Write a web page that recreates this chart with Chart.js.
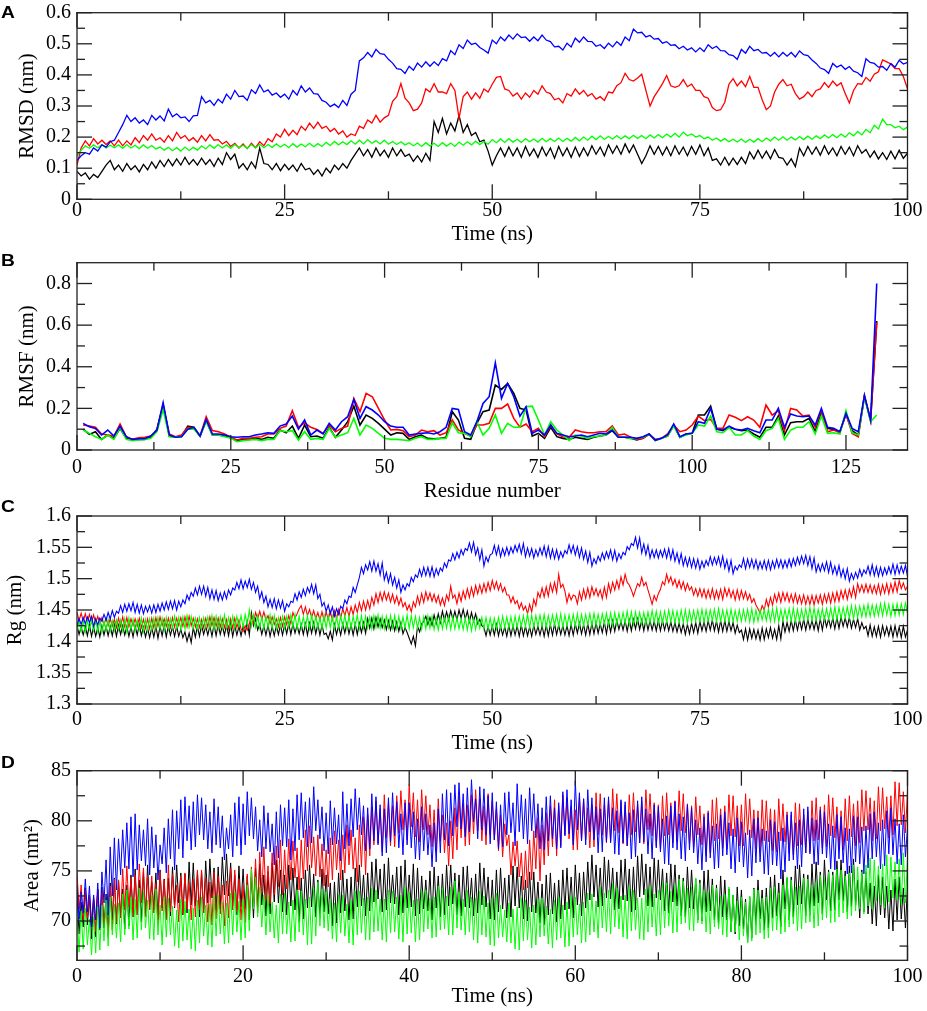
<!DOCTYPE html>
<html>
<head>
<meta charset="utf-8">
<script src="https://cdn.jsdelivr.net/npm/chart.js@4.4.0/dist/chart.umd.min.js"></script>
<style>
  html, body { margin: 0; padding: 0; background: #fff; }
  .panel { position: absolute; left: 0; width: 927px; }
  .overlay { position: absolute; left: 0; top: 0; pointer-events: none; z-index: 1; }
  .letter {
    position: absolute; left: 1px; z-index: 2;
    font: bold 16px/16px "Liberation Sans", Arial, sans-serif;
    transform: scaleX(1.2); transform-origin: left top;
  }
</style>
</head>
<body>
<div class="panel" style="top:0;height:250px"><canvas id="chartA"></canvas><canvas class="overlay" id="frameA"></canvas></div>
<div class="panel" style="top:250px;height:254px"><canvas id="chartB"></canvas><canvas class="overlay" id="frameB"></canvas></div>
<div class="panel" style="top:504px;height:254px"><canvas id="chartC"></canvas><canvas class="overlay" id="frameC"></canvas></div>
<div class="panel" style="top:758px;height:253px"><canvas id="chartD"></canvas><canvas class="overlay" id="frameD"></canvas></div>
<div class="letter" style="top:4.8px">A</div>
<div class="letter" style="top:253.2px">B</div>
<div class="letter" style="top:499.2px">C</div>
<div class="letter" style="top:754.8px">D</div>
<script>
// sampling grids
const timeHalf = Array.from({ length: 201 }, (_, i) => i * 0.5);
const timeQuarter = Array.from({ length: 401 }, (_, i) => i * 0.25);
const residues = Array.from({ length: 130 }, (_, i) => i + 1);

// tick values and labels
const timeTicks = [0, 25, 50, 75, 100];
const timeTickLabels = ["0", "25", "50", "75", "100"];
const timeMinor = [12.5, 37.5, 62.5, 87.5];
const areaTimeTicks = [0, 20, 40, 60, 80, 100];
const areaTimeTickLabels = ["0", "20", "40", "60", "80", "100"];
const areaTimeMinor = [10, 30, 50, 70, 90];
const residueTicks = [0, 25, 50, 75, 100, 125];
const residueTickLabels = ["0", "25", "50", "75", "100", "125"];
const residueMinor = [12.5, 37.5, 62.5, 87.5, 112.5];

const rmsdTicks = [0, 0.1, 0.2, 0.3, 0.4, 0.5, 0.6];
const rmsdTickLabels = ["0", "0.1", "0.2", "0.3", "0.4", "0.5", "0.6"];
const rmsdMinor = [0.05, 0.15, 0.25, 0.35, 0.45, 0.55];
const rmsfTicks = [0, 0.2, 0.4, 0.6, 0.8];
const rmsfTickLabels = ["0", "0.2", "0.4", "0.6", "0.8"];
const rmsfMinor = [0.1, 0.3, 0.5, 0.7];
const rgTicks = [1.3, 1.35, 1.4, 1.45, 1.5, 1.55, 1.6];
const rgTickLabels = ["1.3", "1.35", "1.4", "1.45", "1.5", "1.55", "1.6"];
const rgMinor = [1.325, 1.375, 1.425, 1.475, 1.525, 1.575];
const areaTicks = [70, 75, 80, 85];
const areaTickLabels = ["70", "75", "80", "85"];
const areaMinor = [67.5, 72.5, 77.5, 82.5];

// A: RMSD (nm), every 0.5 ns
const rmsdBlack = [
  .09,.075,.085,.065,.08,.07,.09,.11,.125,.095,
  .11,.09,.115,.095,.108,.088,.112,.095,.12,.1,
  .125,.105,.128,.108,.13,.11,.135,.112,.128,.11,
  .132,.112,.128,.106,.132,.112,.15,.128,.145,.1,
  .115,.095,.12,.1,.165,.115,.112,.095,.115,.092,
  .112,.095,.11,.09,.115,.095,.1,.08,.095,.075,
  .1,.085,.11,.095,.115,.1,.125,.145,.165,.14,
  .16,.135,.165,.14,.158,.135,.165,.14,.16,.138,
  .145,.122,.14,.12,.148,.125,.25,.215,.26,.21,
  .245,.22,.27,.215,.24,.205,.215,.185,.19,.155,
  .11,.14,.165,.138,.168,.14,.165,.135,.17,.14,
  .162,.135,.168,.14,.165,.132,.17,.14,.165,.135,
  .168,.138,.165,.14,.172,.145,.168,.14,.175,.148,
  .172,.145,.178,.15,.175,.145,.115,.14,.172,.145,
  .17,.142,.168,.14,.172,.145,.168,.14,.17,.145,
  .175,.14,.165,.125,.13,.11,.135,.11,.132,.112,
  .135,.115,.152,.13,.158,.132,.155,.13,.16,.135,
  .132,.11,.13,.105,.165,.14,.17,.145,.168,.142,
  .172,.145,.165,.14,.17,.145,.168,.14,.172,.148,
  .16,.135,.155,.13,.15,.128,.155,.13,.158,.132,
  .148
];
const rmsdRed = [
  .11,.165,.188,.172,.195,.178,.19,.176,.188,.172,
  .19,.172,.188,.175,.198,.182,.205,.19,.21,.19,
  .198,.184,.205,.188,.215,.196,.205,.188,.198,.184,
  .205,.188,.208,.19,.192,.178,.186,.17,.18,.165,
  .178,.163,.18,.166,.185,.172,.195,.185,.21,.2,
  .225,.205,.222,.208,.235,.222,.245,.228,.248,.228,
  .235,.218,.228,.21,.22,.2,.21,.205,.235,.228,
  .255,.245,.27,.248,.262,.27,.315,.33,.372,.325,
  .31,.285,.29,.31,.355,.345,.372,.345,.345,.34,
  .372,.35,.26,.33,.345,.322,.342,.325,.355,.345,
  .37,.392,.395,.355,.35,.332,.342,.322,.342,.328,
  .35,.338,.365,.345,.34,.32,.325,.31,.34,.332,
  .355,.338,.35,.332,.34,.322,.33,.318,.345,.342,
  .365,.375,.405,.385,.38,.39,.402,.35,.3,.33,
  .35,.372,.398,.365,.36,.365,.385,.362,.37,.35,
  .35,.33,.325,.295,.285,.288,.312,.37,.388,.365,
  .38,.362,.395,.36,.36,.32,.288,.3,.345,.37,
  .385,.365,.37,.34,.322,.33,.345,.33,.35,.355,
  .375,.36,.38,.365,.375,.34,.31,.35,.372,.37,
  .392,.38,.402,.41,.448,.442,.435,.42,.42,.395,
  .355
];
const rmsdGreen = [
  .14,.158,.172,.164,.175,.166,.176,.165,.174,.166,
  .175,.164,.176,.165,.174,.163,.175,.164,.173,.162,
  .168,.158,.167,.156,.166,.155,.168,.157,.167,.158,
  .172,.162,.175,.164,.176,.165,.175,.164,.176,.166,
  .174,.164,.176,.165,.177,.166,.176,.167,.178,.168,
  .177,.166,.179,.168,.178,.169,.18,.169,.179,.17,
  .183,.173,.186,.175,.185,.176,.188,.177,.19,.178,
  .192,.18,.188,.178,.19,.177,.186,.176,.185,.175,
  .182,.172,.181,.17,.182,.171,.18,.17,.182,.171,
  .181,.17,.184,.174,.185,.175,.187,.176,.186,.177,
  .192,.182,.194,.183,.195,.184,.193,.183,.195,.185,
  .194,.184,.196,.185,.195,.186,.197,.186,.196,.187,
  .199,.188,.2,.19,.203,.192,.204,.193,.202,.194,
  .205,.194,.204,.195,.206,.196,.205,.195,.207,.197,
  .208,.198,.21,.2,.212,.2,.216,.204,.21,.2,
  .205,.195,.2,.19,.197,.187,.195,.185,.193,.184,
  .194,.183,.193,.184,.195,.185,.197,.188,.2,.19,
  .201,.19,.2,.191,.202,.192,.203,.193,.204,.195,
  .207,.197,.208,.198,.21,.2,.214,.204,.218,.207,
  .225,.214,.238,.226,.258,.24,.24,.23,.235,.224,
  .232
];
const rmsdBlue = [
  .125,.14,.15,.145,.165,.155,.175,.168,.185,.19,
  .215,.24,.27,.25,.262,.245,.255,.24,.27,.255,
  .268,.252,.29,.265,.275,.262,.265,.25,.268,.27,
  .33,.31,.318,.302,.322,.31,.338,.322,.35,.33,
  .332,.318,.352,.34,.368,.345,.352,.335,.342,.328,
  .338,.322,.35,.335,.365,.345,.358,.34,.338,.318,
  .312,.298,.306,.295,.318,.302,.338,.35,.445,.455,
  .472,.458,.482,.468,.466,.45,.438,.42,.418,.405,
  .428,.415,.438,.425,.442,.428,.442,.43,.452,.445,
  .478,.465,.497,.485,.512,.498,.502,.488,.48,.47,
  .512,.50,.522,.51,.528,.515,.532,.52,.522,.508,
  .522,.51,.528,.512,.507,.49,.492,.48,.502,.49,
  .518,.505,.522,.508,.507,.492,.497,.485,.502,.49,
  .507,.495,.522,.51,.547,.535,.537,.522,.527,.515,
  .517,.502,.507,.495,.497,.484,.492,.48,.487,.474,
  .487,.475,.497,.485,.492,.478,.477,.465,.462,.45,
  .482,.47,.492,.478,.482,.47,.472,.46,.472,.458,
  .472,.46,.472,.458,.477,.465,.462,.448,.437,.422,
  .417,.405,.437,.425,.432,.418,.427,.412,.407,.395,
  .452,.44,.437,.425,.427,.415,.437,.425,.447,.435,
  .44
];

// B: RMSF (nm) per residue 1..130
const rmsfBlack = [
  .10,.075,.088,.051,.072,.056,.104,.056,.051,.051,
  .051,.061,.10,.216,.067,.061,.067,.115,.109,.067,
  .141,.072,.072,.067,.061,.045,.051,.051,.056,.051,
  .061,.056,.096,.083,.115,.056,.12,.064,.067,.056,
  .109,.061,.096,.136,.211,.12,.168,.152,.128,.10,
  .072,.083,.08,.051,.064,.072,.056,.054,.056,.061,
  .184,.144,.056,.051,.128,.184,.192,.312,.291,.32,
  .272,.20,.192,.067,.08,.056,.109,.064,.056,.051,
  .061,.056,.051,.061,.067,.072,.093,.061,.061,.056,
  .048,.056,.077,.045,.056,.067,.12,.061,.077,.08,
  .168,.168,.211,.10,.093,.109,.10,.093,.096,.077,
  .061,.109,.109,.163,.072,.131,.136,.136,.152,.088,
  .184,.104,.099,.088,.173,.093,.072,.259,.14,.62
];
const rmsfRed = [
  .12,.115,.109,.077,.072,.067,.125,.064,.051,.059,
  .061,.067,.096,.216,.077,.064,.072,.109,.106,.067,
  .16,.093,.088,.077,.061,.048,.056,.056,.061,.064,
  .077,.077,.104,.115,.189,.109,.131,.109,.099,.08,
  .12,.088,.104,.115,.248,.184,.272,.256,.20,.144,
  .096,.099,.093,.064,.072,.096,.088,.093,.072,.083,
  .144,.096,.08,.067,.12,.12,.128,.20,.20,.221,
  .152,.109,.125,.088,.104,.064,.12,.077,.064,.061,
  .096,.088,.083,.083,.088,.088,.115,.072,.077,.061,
  .051,.056,.077,.051,.056,.077,.12,.088,.096,.12,
  .163,.141,.147,.104,.104,.168,.157,.141,.16,.144,
  .109,.216,.168,.189,.093,.20,.192,.163,.168,.109,
  .192,.088,.096,.083,.173,.08,.064,.259,.144,.613
];
const rmsfGreen = [
  .096,.08,.064,.051,.072,.051,.109,.051,.045,.048,
  .051,.056,.088,.195,.064,.061,.064,.10,.10,.067,
  .136,.072,.072,.064,.056,.04,.045,.048,.051,.045,
  .051,.051,.093,.088,.093,.048,.088,.051,.056,.051,
  .104,.061,.072,.083,.152,.072,.12,.104,.08,.056,
  .051,.051,.048,.045,.056,.064,.051,.051,.056,.056,
  .131,.083,.08,.064,.136,.072,.104,.168,.08,.128,
  .109,.109,.208,.211,.144,.072,.136,.096,.072,.045,
  .072,.067,.056,.064,.067,.072,.109,.061,.061,.056,
  .056,.061,.077,.048,.056,.067,.115,.061,.072,.08,
  .12,.115,.163,.088,.083,.109,.072,.072,.093,.067,
  .051,.093,.104,.152,.051,.096,.109,.109,.136,.077,
  .163,.08,.083,.077,.189,.083,.072,.255,.136,.168
];
const rmsfBlue = [
  .128,.112,.104,.072,.096,.067,.115,.064,.051,.054,
  .054,.067,.096,.227,.072,.061,.064,.10,.109,.067,
  .147,.077,.077,.072,.064,.061,.064,.064,.072,.077,
  .083,.08,.115,.125,.163,.10,.144,.072,.096,.077,
  .128,.096,.136,.16,.243,.152,.208,.192,.168,.136,
  .115,.109,.109,.072,.077,.08,.083,.077,.088,.109,
  .20,.195,.088,.072,.136,.224,.256,.419,.248,.32,
  .256,.163,.208,.08,.096,.072,.12,.08,.072,.064,
  .067,.072,.064,.072,.08,.077,.096,.061,.061,.061,
  .056,.064,.077,.048,.056,.072,.125,.064,.077,.08,
  .136,.128,.20,.10,.096,.115,.10,.096,.104,.093,
  .083,.144,.144,.20,.109,.173,.163,.16,.163,.12,
  .20,.109,.104,.088,.176,.104,.088,.262,.144,.80
];

// C: Rg (nm), every 0.25 ns
const rgBlack = [
  1.425,1.411,1.423,1.41,1.424,1.409,1.426,1.408,1.423,1.408,1.422,1.407,1.425,1.41,1.424,1.409,1.424,1.409,1.426,1.408,
  1.426,1.411,1.425,1.41,1.424,1.408,1.423,1.407,1.425,1.41,1.427,1.409,1.423,1.407,1.421,1.406,1.422,1.407,1.424,1.405,
  1.424,1.409,1.426,1.407,1.425,1.41,1.423,1.408,1.424,1.408,1.419,1.406,1.415,1.4,1.413,1.398,1.422,1.407,1.424,1.408,
  1.426,1.411,1.424,1.41,1.425,1.408,1.427,1.409,1.427,1.411,1.425,1.41,1.426,1.409,1.428,1.408,1.425,1.41,1.424,1.409,
  1.424,1.412,1.432,1.41,1.445,1.425,1.436,1.418,1.427,1.411,1.425,1.41,1.426,1.408,1.424,1.409,1.425,1.411,1.426,1.41,
  1.427,1.412,1.429,1.411,1.428,1.413,1.426,1.412,1.427,1.411,1.428,1.41,1.429,1.413,1.43,1.412,1.428,1.41,1.426,1.411,
  1.413,1.404,1.416,1.402,1.427,1.411,1.425,1.41,1.428,1.413,1.429,1.412,1.427,1.41,1.428,1.411,1.429,1.414,1.43,1.413,
  1.436,1.421,1.437,1.42,1.438,1.423,1.436,1.422,1.434,1.419,1.433,1.418,1.432,1.417,1.431,1.416,1.43,1.412,1.422,1.414,
  1.405,1.396,1.408,1.393,1.424,1.415,1.428,1.432,1.44,1.427,1.438,1.426,1.442,1.428,1.444,1.43,1.448,1.433,1.447,1.434,
  1.449,1.435,1.448,1.434,1.45,1.437,1.451,1.436,1.448,1.431,1.446,1.432,1.444,1.428,1.435,1.425,1.422,1.409,1.424,1.41,
  1.425,1.41,1.427,1.409,1.424,1.41,1.423,1.408,1.426,1.409,1.425,1.41,1.425,1.408,1.426,1.409,1.424,1.409,1.423,1.408,
  1.426,1.411,1.424,1.41,1.425,1.408,1.426,1.409,1.427,1.41,1.428,1.411,1.426,1.411,1.425,1.41,1.425,1.409,1.427,1.41,
  1.428,1.413,1.429,1.412,1.427,1.41,1.428,1.411,1.429,1.412,1.43,1.413,1.428,1.414,1.431,1.412,1.432,1.415,1.433,1.416,
  1.434,1.419,1.432,1.418,1.433,1.416,1.434,1.417,1.435,1.42,1.436,1.419,1.434,1.417,1.435,1.418,1.433,1.418,1.432,1.417,
  1.434,1.417,1.433,1.418,1.432,1.417,1.431,1.416,1.43,1.415,1.429,1.414,1.428,1.411,1.427,1.412,1.429,1.414,1.43,1.413,
  1.432,1.417,1.431,1.416,1.433,1.418,1.434,1.417,1.432,1.415,1.433,1.416,1.433,1.416,1.432,1.417,1.43,1.413,1.426,1.414,
  1.418,1.403,1.42,1.402,1.42,1.405,1.419,1.404,1.418,1.402,1.421,1.403,1.42,1.406,1.422,1.405,1.419,1.403,1.425,1.404,
  1.432,1.415,1.43,1.416,1.433,1.417,1.434,1.418,1.434,1.419,1.435,1.418,1.435,1.42,1.433,1.419,1.434,1.417,1.436,1.418,
  1.438,1.423,1.436,1.422,1.437,1.42,1.438,1.421,1.439,1.424,1.437,1.423,1.438,1.421,1.435,1.422,1.436,1.418,1.43,1.42,
  1.424,1.409,1.426,1.408,1.423,1.408,1.424,1.407,1.425,1.41,1.423,1.409,1.424,1.407,1.425,1.408,1.423,1.406,1.424,1.407,
  1.418
];
const rgRed = [
  1.446,1.433,1.445,1.432,1.444,1.431,1.443,1.43,1.442,1.429,1.44,1.428,1.438,1.426,1.437,1.425,1.436,1.424,1.435,1.422,
  1.437,1.424,1.439,1.423,1.438,1.423,1.436,1.425,1.436,1.424,1.437,1.422,1.435,1.421,1.436,1.42,1.437,1.422,1.438,1.424,
  1.439,1.425,1.436,1.424,1.437,1.422,1.438,1.423,1.437,1.425,1.438,1.424,1.439,1.423,1.44,1.425,1.437,1.423,1.436,1.422,
  1.435,1.422,1.437,1.423,1.439,1.425,1.438,1.424,1.437,1.423,1.436,1.422,1.435,1.42,1.436,1.421,1.437,1.422,1.434,1.42,
  1.416,1.425,1.418,1.428,1.442,1.429,1.446,1.436,1.448,1.435,1.447,1.434,1.441,1.428,1.439,1.427,1.436,1.423,1.438,1.424,
  1.439,1.427,1.441,1.428,1.446,1.437,1.444,1.452,1.457,1.443,1.455,1.441,1.451,1.438,1.449,1.436,1.446,1.434,1.447,1.433,
  1.447,1.435,1.448,1.434,1.449,1.436,1.451,1.437,1.452,1.441,1.454,1.44,1.455,1.443,1.458,1.446,1.462,1.449,1.464,1.45,
  1.465,1.452,1.47,1.458,1.476,1.462,1.478,1.465,1.479,1.466,1.477,1.463,1.475,1.461,1.472,1.458,1.469,1.455,1.462,1.45,
  1.458,1.447,1.463,1.455,1.472,1.459,1.476,1.462,1.479,1.466,1.477,1.464,1.475,1.462,1.473,1.458,1.469,1.457,1.474,1.465,
  1.488,1.469,1.474,1.46,1.477,1.464,1.48,1.468,1.484,1.47,1.486,1.472,1.489,1.476,1.49,1.477,1.492,1.479,1.494,1.481,
  1.497,1.484,1.495,1.482,1.492,1.479,1.486,1.474,1.474,1.462,1.471,1.46,1.465,1.452,1.461,1.45,1.456,1.444,1.459,1.447,
  1.467,1.457,1.478,1.47,1.485,1.471,1.487,1.472,1.492,1.479,1.494,1.478,1.507,1.486,1.491,1.48,1.462,1.476,1.466,1.474,
  1.472,1.46,1.479,1.466,1.483,1.469,1.485,1.47,1.487,1.474,1.484,1.472,1.482,1.468,1.486,1.47,1.492,1.478,1.494,1.482,
  1.497,1.484,1.503,1.49,1.507,1.494,1.49,1.482,1.472,1.482,1.492,1.488,1.502,1.489,1.494,1.482,1.471,1.459,1.473,1.465,
  1.476,1.483,1.495,1.49,1.507,1.494,1.503,1.49,1.499,1.486,1.497,1.484,1.495,1.481,1.492,1.482,1.487,1.474,1.484,1.472,
  1.484,1.471,1.483,1.469,1.482,1.469,1.484,1.468,1.481,1.468,1.483,1.467,1.485,1.472,1.484,1.47,1.481,1.466,1.482,1.467,
  1.481,1.468,1.479,1.466,1.475,1.462,1.468,1.458,1.452,1.445,1.457,1.45,1.467,1.455,1.47,1.458,1.475,1.463,1.477,1.462,
  1.478,1.465,1.477,1.463,1.475,1.462,1.476,1.461,1.473,1.46,1.474,1.459,1.472,1.459,1.473,1.458,1.473,1.461,1.474,1.459,
  1.475,1.462,1.476,1.461,1.477,1.463,1.479,1.464,1.481,1.468,1.482,1.467,1.483,1.471,1.487,1.47,1.492,1.479,1.49,1.478,
  1.491,1.478,1.49,1.477,1.489,1.476,1.491,1.475,1.49,1.477,1.492,1.476,1.492,1.478,1.495,1.479,1.497,1.484,1.493,1.482,
  1.488
];
const rgGreen = [
  1.418,1.431,1.416,1.432,1.415,1.433,1.419,1.434,1.417,1.436,1.415,1.433,1.414,1.432,1.418,1.435,1.416,1.433,1.417,1.434,
  1.418,1.434,1.416,1.436,1.415,1.437,1.419,1.435,1.417,1.434,1.418,1.437,1.416,1.435,1.417,1.436,1.418,1.437,1.42,1.438,
  1.42,1.437,1.418,1.438,1.419,1.436,1.421,1.44,1.421,1.438,1.419,1.439,1.42,1.441,1.422,1.44,1.421,1.437,1.419,1.438,
  1.42,1.438,1.422,1.439,1.421,1.441,1.419,1.44,1.42,1.439,1.421,1.442,1.422,1.438,1.42,1.44,1.421,1.44,1.423,1.441,
  1.422,1.443,1.426,1.45,1.424,1.442,1.422,1.441,1.421,1.439,1.42,1.44,1.422,1.442,1.421,1.441,1.42,1.438,1.422,1.44,
  1.421,1.44,1.423,1.442,1.422,1.443,1.42,1.44,1.421,1.439,1.422,1.441,1.42,1.442,1.421,1.44,1.421,1.438,1.42,1.442,
  1.421,1.441,1.422,1.44,1.42,1.439,1.421,1.441,1.422,1.442,1.42,1.44,1.421,1.44,1.423,1.442,1.42,1.441,1.421,1.44,
  1.421,1.439,1.42,1.441,1.422,1.442,1.421,1.44,1.42,1.44,1.422,1.441,1.421,1.441,1.42,1.44,1.42,1.439,1.421,1.442,
  1.42,1.441,1.422,1.44,1.421,1.438,1.419,1.439,1.42,1.441,1.421,1.44,1.419,1.437,1.418,1.438,1.42,1.439,1.421,1.44,
  1.419,1.439,1.42,1.438,1.42,1.436,1.419,1.437,1.418,1.437,1.417,1.436,1.419,1.437,1.421,1.438,1.42,1.438,1.419,1.437,
  1.419,1.437,1.42,1.438,1.42,1.44,1.422,1.439,1.421,1.439,1.42,1.44,1.422,1.44,1.423,1.441,1.423,1.443,1.422,1.442,
  1.422,1.441,1.424,1.442,1.423,1.443,1.422,1.441,1.424,1.442,1.425,1.443,1.423,1.444,1.422,1.442,1.424,1.442,1.425,1.443,
  1.424,1.444,1.423,1.443,1.425,1.443,1.426,1.444,1.424,1.445,1.425,1.443,1.425,1.444,1.427,1.445,1.426,1.445,1.425,1.446,
  1.427,1.445,1.428,1.446,1.428,1.448,1.427,1.447,1.427,1.447,1.429,1.446,1.428,1.446,1.427,1.447,1.429,1.449,1.43,1.448,
  1.428,1.447,1.429,1.448,1.43,1.45,1.431,1.449,1.429,1.448,1.43,1.45,1.43,1.45,1.429,1.449,1.431,1.449,1.432,1.45,
  1.431,1.451,1.43,1.45,1.432,1.45,1.433,1.451,1.431,1.452,1.432,1.45,1.432,1.45,1.431,1.451,1.431,1.449,1.432,1.45,
  1.432,1.45,1.433,1.451,1.431,1.452,1.43,1.45,1.432,1.45,1.434,1.451,1.433,1.451,1.432,1.452,1.432,1.453,1.431,1.451,
  1.433,1.451,1.434,1.452,1.432,1.453,1.431,1.451,1.433,1.451,1.434,1.452,1.434,1.454,1.433,1.453,1.433,1.451,1.435,1.452,
  1.434,1.452,1.435,1.453,1.435,1.455,1.434,1.454,1.436,1.454,1.437,1.455,1.437,1.457,1.436,1.456,1.438,1.456,1.439,1.457,
  1.439,1.459,1.44,1.458,1.44,1.458,1.441,1.46,1.441,1.461,1.442,1.459,1.44,1.459,1.441,1.46,1.442,1.46,1.443,1.461,
  1.445
];
const rgBlue = [
  1.425,1.436,1.427,1.438,1.428,1.439,1.43,1.44,1.424,1.436,1.426,1.437,1.432,1.443,1.434,1.446,1.436,1.449,1.438,1.448,
  1.445,1.457,1.446,1.459,1.448,1.46,1.449,1.462,1.446,1.459,1.445,1.458,1.444,1.456,1.447,1.457,1.445,1.458,1.446,1.459,
  1.448,1.461,1.45,1.463,1.451,1.464,1.452,1.465,1.45,1.464,1.455,1.466,1.46,1.474,1.466,1.478,1.472,1.485,1.474,1.488,
  1.475,1.488,1.472,1.486,1.468,1.482,1.467,1.481,1.465,1.477,1.466,1.479,1.468,1.482,1.474,1.485,1.482,1.494,1.484,1.498,
  1.484,1.496,1.486,1.499,1.483,1.494,1.478,1.488,1.468,1.479,1.462,1.472,1.455,1.467,1.454,1.468,1.452,1.466,1.453,1.465,
  1.448,1.46,1.455,1.464,1.462,1.476,1.466,1.479,1.47,1.483,1.473,1.486,1.478,1.491,1.476,1.49,1.468,1.475,1.456,1.462,
  1.448,1.458,1.444,1.455,1.44,1.452,1.443,1.456,1.452,1.466,1.46,1.472,1.47,1.486,1.478,1.49,1.502,1.518,1.508,1.522,
  1.514,1.527,1.512,1.528,1.512,1.524,1.506,1.525,1.498,1.51,1.494,1.508,1.49,1.502,1.485,1.498,1.478,1.49,1.482,1.492,
  1.488,1.502,1.495,1.506,1.502,1.515,1.504,1.518,1.505,1.518,1.504,1.519,1.503,1.516,1.506,1.517,1.512,1.525,1.518,1.53,
  1.528,1.54,1.53,1.542,1.533,1.546,1.538,1.548,1.545,1.557,1.543,1.558,1.538,1.549,1.53,1.546,1.52,1.535,1.527,1.538,
  1.54,1.553,1.538,1.552,1.535,1.548,1.537,1.55,1.538,1.55,1.541,1.553,1.543,1.555,1.54,1.556,1.535,1.549,1.536,1.548,
  1.533,1.546,1.536,1.549,1.538,1.552,1.535,1.551,1.533,1.547,1.532,1.546,1.531,1.543,1.534,1.545,1.54,1.554,1.541,1.553,
  1.538,1.551,1.534,1.549,1.531,1.544,1.526,1.542,1.52,1.532,1.524,1.536,1.528,1.541,1.531,1.543,1.533,1.546,1.53,1.545,
  1.528,1.54,1.532,1.542,1.538,1.551,1.546,1.556,1.553,1.566,1.549,1.565,1.541,1.555,1.538,1.553,1.533,1.546,1.534,1.546,
  1.533,1.545,1.535,1.547,1.533,1.548,1.531,1.546,1.528,1.541,1.525,1.54,1.521,1.534,1.52,1.533,1.518,1.532,1.517,1.531,
  1.515,1.528,1.518,1.529,1.521,1.535,1.522,1.534,1.523,1.535,1.52,1.536,1.517,1.53,1.512,1.529,1.508,1.52,1.514,1.522,
  1.518,1.532,1.516,1.531,1.518,1.531,1.517,1.53,1.515,1.527,1.516,1.529,1.515,1.529,1.514,1.528,1.517,1.531,1.518,1.53,
  1.517,1.529,1.518,1.531,1.519,1.532,1.521,1.534,1.523,1.536,1.524,1.537,1.521,1.535,1.516,1.533,1.511,1.523,1.512,1.524,
  1.513,1.527,1.51,1.526,1.508,1.52,1.506,1.521,1.503,1.515,1.5,1.516,1.496,1.508,1.499,1.51,1.501,1.515,1.504,1.514,
  1.508,1.52,1.506,1.522,1.505,1.519,1.504,1.518,1.505,1.517,1.507,1.519,1.508,1.523,1.507,1.522,1.508,1.52,1.509,1.521,
  1.504
];

// D: Area (nm^2), every 0.25 ns
const areaBlack = [
  72.6,68.7,71.9,69.4,73.3,69.6,72.4,68.2,72.1,68.4,73.2,69.1,73.4,69.3,72.7,68.6,73.8,70.1,74.3,69.7,
  74.1,70.3,73.2,69.2,73.6,69.5,74.6,70.4,75.2,70.6,74.1,69.9,74.9,70.4,75.6,71.2,73.9,71.1,74.8,70.1,
  75.1,71.3,74.2,70.2,74.3,70.5,75.4,71.3,75.6,71.8,74.8,70.6,74.7,70.8,75.9,71.6,75.8,71.5,74.9,70.4,
  74.9,70.8,76,71.8,76.2,72.3,75.3,71.1,75.4,71.2,76.4,72.6,76.7,72.5,75.8,71.5,74.6,70.6,75.5,71.4,
  75.2,71.2,74.5,70.1,74.4,70.3,75.3,71.4,75.7,71.6,74.6,70.5,74.9,70.7,75.8,71.9,76.1,71.8,75.1,70.9,
  74.6,70.6,75.6,71.5,75.3,71.1,74.4,69.9,74.3,70.2,75.1,71.3,75.6,71.4,74.7,70.4,74.1,70.3,75.2,70.9,
  74.6,70.7,73.8,69.5,73.9,69.8,74.8,70.8,75.1,71,74.2,70.1,74.4,70.2,75.3,71.4,75.6,71.5,74.6,70.5,
  74.8,71,75.9,71.9,76.2,72.2,75.2,70.9,75.7,71.1,76.3,71.8,74.6,71.7,75.4,70.6,75.5,70.8,76.1,71.3,
  74.6,71.4,75.7,70.5,75.3,70.7,74.5,71.2,74.1,71,75,70.1,75.4,71.3,74.5,70.4,74.7,70.6,75.6,71.5,
  75.6,71.7,74.8,70.6,74.6,70.5,75.4,71.4,75.5,71.3,74.3,70.5,74.7,70.8,75.8,71.6,75.3,71.4,74.4,70.2,
  74.1,70.1,75.1,70.9,75.3,71.2,74.3,70.3,74.6,70.4,75.5,71.5,75.4,71.3,74.5,70.2,74.1,70,74.9,70.9,
  74.9,70.8,73.9,69.8,73.7,69.6,74.6,70.6,74.8,70.7,73.8,69.9,74.1,70.2,75.1,71.1,75.3,71.2,74.4,70.3,
  75.6,71.6,74.8,70.5,74.9,71.3,75.9,72.1,76.6,72.4,75.6,71.4,75.3,71.5,76.4,72.3,76.1,72.2,75.3,71.1,
  74.9,71.2,76.1,72.1,76.2,72,75.2,70.9,75.4,71.1,76.5,72.4,76.7,72.6,75.7,71.5,75.4,71.4,76.3,72.3,
  76.1,72.1,75.2,71,74.8,70.8,75.7,71.9,75.6,71.5,74.6,70.5,74.3,70.4,75.4,71.3,75.1,71.2,74.2,70.1,
  74.1,70,75,70.9,75.1,71,74.2,70.1,73.6,69.6,74.5,70.4,74.1,70.1,73.2,68.9,72.6,68.7,73.4,69.5,
  73.1,69.2,72.2,67.9,72.4,68.3,73.3,69.6,74.1,70.2,73.1,69.1,73.3,69.3,74.4,70.3,74.6,70.5,73.8,69.4,
  75.1,71.2,74.3,70.1,74.4,70.4,75.5,71.6,75.6,71.7,74.7,70.5,74.6,70.6,75.7,71.5,75.9,71.8,74.9,70.7,
  76.1,72.1,75.1,71,74.9,71.1,76,72.1,76.1,72,75,70.9,75.5,71.4,76.2,71.6,74.1,70.3,75.1,70.9,
  74.9,70.7,73.8,69.7,73.5,69.5,74.6,70.6,74.4,70.3,73.5,69.2,73.1,69,74.2,70.1,74.4,70.2,73.3,69.3,
  73.6
];
const areaRed = [
  74.9,71.2,73.6,70.1,73.2,70.3,72.6,69.9,72.4,68.9,73.1,69.5,72.9,69.6,71.8,68.4,73.5,69.1,74.2,69.8,
  74.1,70.3,75.2,71.1,75.5,71.4,74.3,70.5,74.6,70.6,75.7,71.8,75.3,70.4,74.6,71.1,74.5,70.8,73.7,69.6,
  74.9,71,74.1,70.1,75.6,70.9,74.7,71.4,73.6,69.9,74.5,70.7,74.8,71.2,73.9,70.1,74.2,70.4,75.1,71.1,
  75.1,70.8,74.3,69.9,73.9,69.6,74.9,70.2,74.5,70.7,73.6,69.5,74,70.3,75.3,71.1,75.1,70.9,74.2,70.1,
  73.6,69.8,74.7,70.6,75.4,71.6,76.2,70.8,76.9,72.8,77.4,72.1,75.5,71.7,76.8,72.6,77.5,73.4,78.1,72.6,
  77.1,73.2,78.2,74.1,78,74.3,77.3,73.1,78.1,74.2,79.1,75,79.5,75.3,78.4,74.5,78.6,74.4,77.7,73.5,
  77.1,73.4,78.3,74.1,79,75.1,78.1,74.1,78.6,74.8,79.6,75.6,79.1,75.2,78.3,73.9,79.6,75.4,80.4,74.6,
  80.6,76.5,81.4,77.6,82,77.8,81.2,76.9,82.6,78.3,81.8,77.5,81.5,77.4,82.5,78.8,83,79.1,82.1,78.1,
  83.6,79.4,82.8,78.4,82.1,77.9,83.1,79.1,82.5,78.6,81.6,77.4,81.1,76.9,82.2,78,80.6,76.8,79.8,75.5,
  80,76.2,81.3,77.1,82.5,78.3,81.7,77.5,81.6,77.6,82.6,78.7,83.1,79,82.2,78,81.5,77.6,82.7,78.6,
  82,78.1,81.2,77,80.6,76.4,79.7,77.5,78.6,74.6,77.9,75.5,78,74.4,76.8,73.1,77,73.3,78.1,74.1,
  79,75.2,80.3,74,79.6,75.6,80.8,76.5,81.5,77.4,82.1,76.5,81.5,77.5,82.6,78.6,82.3,78.2,81.4,77.1,
  81.1,77.1,82.3,78,82.2,78.1,81.3,77.3,81.6,77.4,82.8,78.6,82.7,78.6,81.6,77.8,82.1,77.9,83.2,79,
  82.7,78.8,81.9,77.7,81.6,77.5,82.6,78.6,82.8,78.9,81.7,77.8,82,77.7,83.1,79.1,82.7,78.5,81.8,77.5,
  81.6,77.3,82.5,78.5,82.8,78.6,81.8,77.8,82,77.9,83,79,82.7,78.8,81.7,77.7,81.5,77.4,82.4,78.6,
  81.5,77.6,80.7,76.5,81,76.8,82.1,78,82.3,78.2,81.2,77.3,81.5,77.2,82.6,78.5,82.5,78.4,81.5,77.5,
  81.6,77.5,82.7,78.6,82.2,78.3,81.1,77.2,81,76.9,82.1,78,82,77.9,81.2,77,81.1,76.9,82.2,78,
  81.7,77.9,80.9,76.8,80.6,76.6,81.8,77.5,81.7,77.6,80.6,76.8,81,76.9,82,78,82.3,78.1,81.4,77.3,
  81.6,77.4,82.6,78.5,82.3,78.3,81.4,77.2,81,77.1,82.2,78,82.5,78.4,81.7,77.5,82,77.8,83.1,79,
  83,79.1,82.3,78,82,78.2,83.4,79,83.3,79.2,82.4,78.3,82.5,78.6,83.9,79.5,83.8,79.6,82.9,78.8,
  83
];
const areaGreen = [
  70.6,66.9,71,67.2,71.3,67.6,70.2,66.6,70.4,66.8,71.4,67.1,71.6,68,72.1,67.5,72.4,68.6,71.7,68.3,
  71.8,67.9,72.7,68.6,73.1,69.2,72.4,68.1,72.2,68.3,73.3,69.1,73,69.3,72.1,68.2,72.6,68.1,73.2,68.6,
  71.6,67.6,72.4,68.4,72.3,68.6,71.5,67.5,71.1,67.3,72.2,68,72,68.1,71.2,67.2,71.3,67,72.1,67.8,
  72.4,68.5,71.6,67.6,71.7,67.4,72.5,68.5,72.6,68.7,71.9,67.7,71.8,67.8,72.8,68.6,72.9,68.9,72,68.1,
  72.2,68.3,73.6,69,75.2,71.2,74.4,70.4,73.4,69.4,72.6,68.6,72.6,68.9,71.9,68.3,71.6,67.8,72.7,68.7,
  72.8,68.7,71.9,67.9,72.1,68,73.1,68.9,73,68.6,72.2,67.6,72.4,67.7,73.3,68.5,73.9,69.5,73.2,69.3,
  72.9,69,72.2,68.2,71.8,67.9,72.7,68.8,72.6,68.5,71.7,67.8,72.1,67.6,73,68.6,73,68.8,72.3,68.1,
  72.4,68.1,73.3,68.9,73.1,69,72.2,68.1,72.2,67.9,73.1,68.8,73,68.9,72.4,68.2,72.6,67.9,73.4,68.7,
  72.9,68.8,72.1,67.9,72.2,68.1,73,68.9,73.1,69.2,72.3,68.3,72.4,68.4,73.5,69.1,73.3,69.2,72.5,68.6,
  73.4,68.6,74,69.3,72.9,69.1,72.2,68.6,73.1,68.9,72.4,68.1,72.3,67.8,73,68.6,72.5,68.4,71.8,67.6,
  72.3,67.5,72.8,68.3,71.6,68.4,71.1,67.9,71.8,67.8,71.2,67.2,71.4,67.1,72.3,68,72.1,68.1,71.4,67.3,
  71.6,67.6,72.2,68.4,72.3,68.5,71.5,67.7,71.2,67.3,72.1,68.1,72.4,68.3,71.6,67.4,71.9,67.5,72.6,68.4,
  72.4,68.6,71.7,67.8,71.9,67.9,72.8,68.6,72.7,68.9,72,68.3,73.4,69.3,72.8,68.9,73.1,68.7,73.8,69.4,
  73.3,69.2,72.5,68.4,72.6,68.2,73.4,69,73.1,69.1,72.3,68.2,72.3,68.1,73.2,68.9,73.5,69.4,72.7,68.5,
  73.1,68.6,73.9,69.3,73.8,69.5,73,68.8,73.6,68.9,74.2,69.7,74,69.8,73.3,69.1,73.4,69,74.3,69.8,
  73.8,69.7,73.1,68.9,72.9,68.7,73.6,69.4,73.3,69.2,72.5,68.6,72.7,68.4,73.4,68.9,72.6,68.9,72,68.1,
  72.4,68.5,71.9,67.8,72.5,68,73.2,68.6,73.1,68.8,72.3,68.2,72.4,68.3,73.3,69,73.4,69.1,72.8,68.7,
  73.6,68.9,74.4,69.4,74.1,69.7,73.4,69,73.5,69.2,74.3,69.8,74.2,69.9,73.6,69.3,73.9,69.5,74.6,70.1,
  74.3,70.3,74.9,69.8,74.6,69.9,75.2,70.4,75.1,70.8,74.5,70.2,74.8,70.5,75.6,71,75.4,71.2,74.9,70.7,
  75.6,71.5,76.3,71.2,76.1,72,75.5,71.6,75.7,71.3,76.6,71.9,76.4,72.3,75.9,72.1,76.2,71.6,76.8,71.8,
  76.3
];
const areaBlue = [
  73.6,70.2,72.9,70.8,74.2,70.9,73.5,69.4,72.6,70.1,73.8,69.3,74.9,71.8,76.1,70.6,77.4,72.5,78.3,73.1,
  78.2,74.6,79.1,75.3,79.8,75.2,80.4,74.4,80.7,75.1,79.6,76,79.1,75.5,80.2,74.6,79.4,75.3,78.6,74.1,
  77.6,75.7,79.3,74.8,80.2,76.2,81.1,75.1,81,77.2,82.1,76.3,82.4,78,81.5,77.1,81.9,77.4,82.6,78.6,
  82.3,78.1,81.6,77.2,80.9,76.8,82.2,77.6,81.4,77.3,80.5,76.1,79.3,77.2,80.6,76.4,81.8,77.5,82.4,76.6,
  81.7,77.6,82.9,78.5,82.3,78.2,81.4,77,80.1,76.4,81.5,77.2,80.8,76.9,79.7,75.6,80.9,76.3,81.6,77.5,
  81.3,77.4,82.1,76.1,81.2,77,82.6,78.1,82.8,78.3,81.9,77.4,82.3,77.8,83.4,79,82.1,78.2,81.4,77,
  80.8,76.7,82,77.6,81.3,77.7,80.6,76,82.9,77.2,81.7,77.5,82.2,78.4,83.2,79.1,82.3,78.6,81.5,77,
  81.3,77.2,82.7,78,82.4,77.6,81.6,76.5,81.2,76.8,82.3,77.9,82.8,78.5,81.9,77.3,80.7,76.6,81.8,77.6,
  81.8,77.3,80.9,76.2,80.2,76.1,81.4,77,80.7,76.6,79.6,75.4,79.8,75.9,81.2,76.8,82.7,78.1,83.1,77.5,
  82.8,78.5,83.6,79.4,83.8,79.2,82.7,78.4,83.3,78.9,84.1,79.9,82.2,78.2,83.4,79.1,83.2,78.6,82.5,77.7,
  82.8,78.1,81.9,77.2,81.6,77.4,82.8,78.6,82.9,78.8,81.8,77.5,83.7,78.9,82.6,78.2,82.2,77.7,83.3,79,
  82.7,78.3,81.7,77.2,81.3,77.1,82.4,78,82.5,78.2,81.3,77.2,81.8,77.3,82.9,78.5,83.1,78.7,82.1,77.6,
  84,79.1,82.8,78,82.2,77.6,83.1,78.9,82.3,78.1,81.4,76.8,81.2,76.9,82.3,77.9,82.4,77.8,81.3,76.7,
  81,76.6,82.1,77.8,81.9,77.5,80.8,76.2,81.1,76.4,82,77.8,82.4,77.9,81.2,76.7,80.7,76.2,81.6,77.3,
  81.4,76.9,80.2,75.7,80.5,75.6,81.5,77.3,81.9,77.1,80.7,76.2,80.4,76,81.6,77.1,81.3,76.8,80.1,75.7,
  79.3,75.1,80.4,75.9,80.8,76.3,79.5,75.2,79.7,75.3,80.6,76.5,80.9,76.6,79.8,75.2,79.2,74.8,80.3,75.9,
  79.9,75.4,78.8,74.3,79.1,74.5,80.2,75.8,80.3,75.9,79.2,74.7,79,74.6,80.1,75.6,79.9,75.5,78.9,74.2,
  79.3,74.9,80.6,76,80.9,76.1,79.8,75.2,80.1,75.4,81.2,76.8,81.4,76.7,80.3,75.7,80.1,75.6,81.1,76.7,
  80.9,76.3,79.7,75.2,79.5,75.1,80.6,76.2,80.4,75.8,79.3,74.7,79.2,74.8,80.5,75.9,80.4,75.7,79.4,74.7,
  79.5,75.3,80.7,76.2,80.9,76.4,79.8,75.2,80.1,75.5,81,76.7,81.3,76.6,80.2,75.7,79.7,75.6,80.6,76.4,
  79.3
];

const BLACK = "#000000", RED = "#ff0000", GREEN = "#00ff00", BLUE = "#0000ff";

Chart.defaults.font.family = '"Liberation Serif", "Times New Roman", serif';
Chart.defaults.color = "#000";

// draw the frame and the inward major/minor ticks on every side,
// on a transparent canvas laid over the chart, using the chart's own scales
function paintFrame(chart, overlayId, xMajor, xMinor, yMajor, yMinor) {
  const ov = document.getElementById(overlayId);
  const W = chart.width, H = chart.height, dpr = chart.currentDevicePixelRatio || 1;
  ov.width = Math.round(W * dpr); ov.height = Math.round(H * dpr);
  ov.style.width = W + "px"; ov.style.height = H + "px";
  const ctx = ov.getContext("2d");
  ctx.setTransform(dpr, 0, 0, dpr, 0, 0);
  ctx.clearRect(0, 0, W, H);
  const a = chart.chartArea, xs = chart.scales.x, ys = chart.scales.y, w = 1.3;
  ctx.fillStyle = "#222";
  for (const [list, len] of [[xMajor, 15], [xMinor, 8]]) {
    for (const v of list) {
      const px = xs.getPixelForValue(v) - w / 2;
      ctx.fillRect(px, a.bottom - len, w, len);
      ctx.fillRect(px, a.top, w, len);
    }
  }
  for (const [list, len] of [[yMajor, 15], [yMinor, 8]]) {
    for (const v of list) {
      const py = ys.getPixelForValue(v) - w / 2;
      ctx.fillRect(a.left, py, len, w);
      ctx.fillRect(a.right - len, py, len, w);
    }
  }
  ctx.fillRect(a.left - w / 2, a.top - w / 2, a.right - a.left + w, w);
  ctx.fillRect(a.left - w / 2, a.bottom - w / 2, a.right - a.left + w, w);
  ctx.fillRect(a.left - w / 2, a.top - w / 2, w, a.bottom - a.top + w);
  ctx.fillRect(a.right - w / 2, a.top - w / 2, w, a.bottom - a.top + w);
}

function makePanel(id, overlayId, p) {
  const datasets = p.series.map(s => ({
    data: s.values.map((v, i) => ({ x: p.xs[i], y: v })),
    borderColor: s.color,
    borderWidth: p.lineWidth,
    pointRadius: 0,
    tension: 0,
    fill: false
  }));
  const framePlugin = {
    id: "frame" + id,
    afterRender(chart) {
      paintFrame(chart, overlayId, p.xTicks, p.xMinor, p.yTicks, p.yMinor);
    }
  };
  return new Chart(document.getElementById(id), {
    type: "line",
    data: { datasets },
    options: {
      responsive: true,
      maintainAspectRatio: false,
      animation: false,
      events: [],
      layout: { padding: { top: p.padTop, right: 19.5, left: 0, bottom: 0 } },
      plugins: { legend: { display: false }, tooltip: { enabled: false } },
      scales: {
        x: {
          type: "linear",
          min: p.xMin, max: p.xMax,
          afterBuildTicks: s => { s.ticks = p.xTicks.map(v => ({ value: v })); },
          afterFit: s => { s.height = p.xAxisHeight; s.paddingLeft = 0; s.paddingRight = 0; },
          grid: { display: false, drawTicks: false },
          border: { display: false },
          ticks: {
            padding: p.xTickPad, maxRotation: 0, autoSkip: false,
            font: { size: 20 }, color: "#000",
            callback: (v, i) => p.xLabels[i]
          },
          title: {
            display: true, text: p.xTitle, color: "#000",
            font: { size: 21 }, padding: { top: 0, bottom: p.xTitlePad }
          }
        },
        y: {
          min: p.yMin, max: p.yMax,
          afterBuildTicks: s => { s.ticks = p.yTicks.map(v => ({ value: v })); },
          afterFit: s => { s.width = 77; s.paddingTop = 0; s.paddingBottom = 0; },
          grid: { display: false, drawTicks: false },
          border: { display: false },
          ticks: {
            padding: 6, autoSkip: false,
            font: { size: 20 }, color: "#000",
            callback: (v, i) => p.yLabels[i]
          },
          title: {
            display: true, text: p.yTitle, color: "#000",
            font: { size: 21 }, padding: { top: p.yTitlePad, bottom: 0 }
          }
        }
      }
    },
    plugins: [framePlugin]
  });
}

const charts = [];

charts.push(makePanel("chartA", "frameA", {
  xs: timeHalf, xMin: 0, xMax: 100, yMin: 0, yMax: 0.6,
  series: [
    { values: rmsdBlue, color: BLUE }, { values: rmsdGreen, color: GREEN },
    { values: rmsdRed, color: RED }, { values: rmsdBlack, color: BLACK }
  ],
  lineWidth: 1.3,
  xTicks: timeTicks, xLabels: timeTickLabels, xMinor: timeMinor,
  yTicks: rmsdTicks, yLabels: rmsdTickLabels, yMinor: rmsdMinor,
  xTitle: "Time (ns)", yTitle: "RMSD (nm)",
  padTop: 12.7, xAxisHeight: 50.7, xTickPad: -1, xTitlePad: 2.8, yTitlePad: 15.3
}));

charts.push(makePanel("chartB", "frameB", {
  xs: residues, xMin: 0, xMax: 135, yMin: 0, yMax: 0.9,
  series: [
    { values: rmsfBlue, color: BLUE }, { values: rmsfGreen, color: GREEN },
    { values: rmsfRed, color: RED }, { values: rmsfBlack, color: BLACK }
  ],
  lineWidth: 1.6,
  xTicks: residueTicks, xLabels: residueTickLabels, xMinor: residueMinor,
  yTicks: rmsfTicks, yLabels: rmsfTickLabels, yMinor: rmsfMinor,
  xTitle: "Residue number", yTitle: "RMSF (nm)",
  padTop: 12.7, xAxisHeight: 54, xTickPad: 5.5, xTitlePad: 0.2, yTitlePad: 15.3
}));

charts.push(makePanel("chartC", "frameC", {
  xs: timeQuarter, xMin: 0, xMax: 100, yMin: 1.3, yMax: 1.6,
  series: [
    { values: rgBlue, color: BLUE }, { values: rgGreen, color: GREEN },
    { values: rgRed, color: RED }, { values: rgBlack, color: BLACK }
  ],
  lineWidth: 1.1,
  xTicks: timeTicks, xLabels: timeTickLabels, xMinor: timeMinor,
  yTicks: rgTicks, yLabels: rgTickLabels, yMinor: rgMinor,
  xTitle: "Time (ns)", yTitle: "Rg (nm)",
  padTop: 12, xAxisHeight: 54, xTickPad: 3.9, xTitlePad: 1.5, yTitlePad: 3
}));

charts.push(makePanel("chartD", "frameD", {
  xs: timeQuarter, xMin: 0, xMax: 100, yMin: 66.08, yMax: 85,
  series: [
    { values: areaBlue, color: BLUE }, { values: areaGreen, color: GREEN },
    { values: areaRed, color: RED }, { values: areaBlack, color: BLACK }
  ],
  lineWidth: 1,
  xTicks: areaTimeTicks, xLabels: areaTimeTickLabels, xMinor: areaTimeMinor,
  yTicks: areaTicks, yLabels: areaTickLabels, yMinor: areaMinor,
  xTitle: "Time (ns)", yTitle: "Area (nm\u00B2)",
  padTop: 12.7, xAxisHeight: 50.7, xTickPad: 4.2, xTitlePad: 2.2, yTitlePad: 19.6
}));
</script>
</body>
</html>
